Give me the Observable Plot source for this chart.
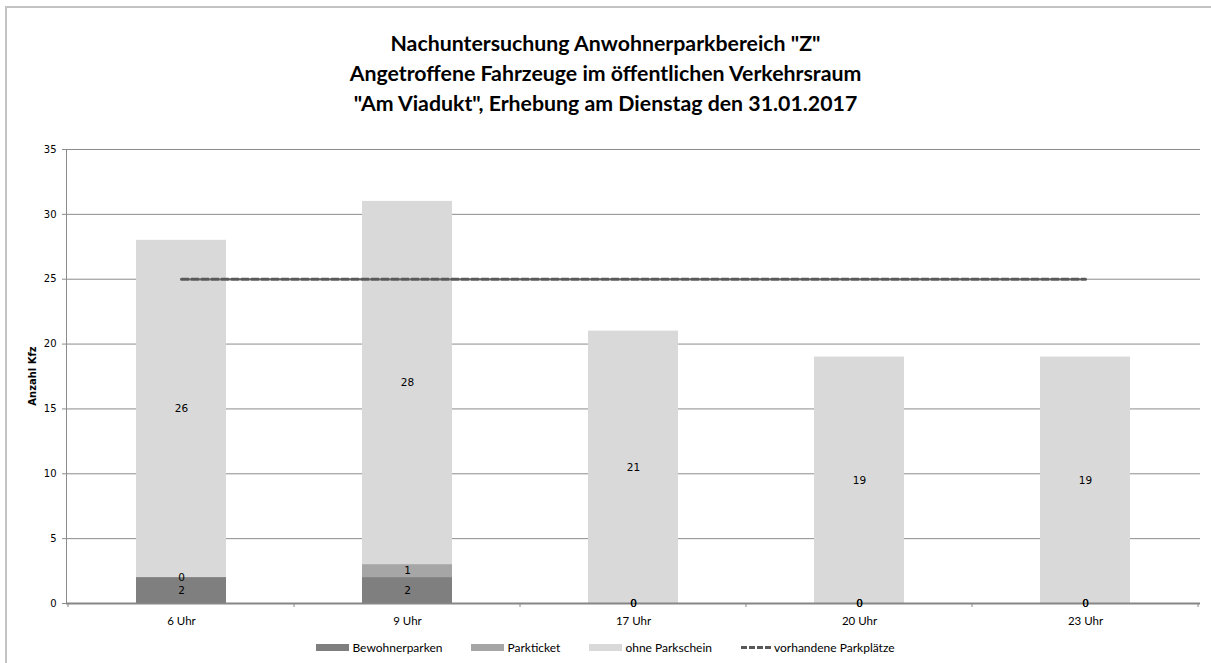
<!DOCTYPE html>
<html>
<head>
<meta charset="utf-8">
<script src="https://cdn.jsdelivr.net/npm/d3@7"></script>
<script src="https://cdn.jsdelivr.net/npm/@observablehq/plot@0.6"></script>
<style>
  html, body { margin: 0; padding: 0; background: #fff; }
  #wrap { position: relative; width: 1211px; height: 663px; overflow: hidden; background: #fff; }
  #frame { position: absolute; left: 5px; top: 6px; width: 1300px; height: 800px;
           border-left: 2px solid #c3c3c3; border-top: 2px solid #c3c3c3; }
  #title { position: absolute; left: 0; top: 28px; width: 1211px; text-align: center;
           font-family: Lato, "Open Sans", sans-serif; font-weight: bold; font-size: 21.3px;
           line-height: 30px; color: #000; }
  #chart { position: absolute; left: 0; top: 125px; }
  #ylabel { position: absolute; left: 32px; top: 376px; transform: translate(-50%, -50%) rotate(-90deg);
            font-family: "DejaVu Sans", Verdana, sans-serif; font-weight: bold; font-size: 10px; white-space: nowrap; }
  #legend { position: absolute; left: 0; top: 640px; width: 1211px; display: flex; justify-content: center;
            font-family: Lato, "Open Sans", sans-serif; font-size: 12px; color: #000; gap: 29px; }
  .item { display: flex; align-items: center; gap: 3px; }
  .sw { width: 33px; height: 7px; }
  .dash { width: 30px; height: 0; border-top: 3px dashed #595959; }
</style>
</head>
<body>
<div id="wrap">
  <div id="frame"></div>
  <div id="title">Nachuntersuchung Anwohnerparkbereich "Z"<br>Angetroffene Fahrzeuge im öffentlichen Verkehrsraum<br>"Am Viadukt", Erhebung am Dienstag den 31.01.2017</div>
  <div id="chart"></div>
  <div id="ylabel">Anzahl Kfz</div>
  <div id="legend"></div>
</div>
<script>
// Survey times (categories)
const times = ["6 Uhr", "9 Uhr", "17 Uhr", "20 Uhr", "23 Uhr"];
// Vehicle counts per parking type
const bewohnerparken = [2, 2, 0, 0, 0];
const parkticket = [0, 1, 0, 0, 0];
const ohneParkschein = [26, 28, 21, 19, 19];
// Available parking spaces (reference line)
const vorhandeneParkplaetze = [25, 25, 25, 25, 25];
// Series names and y-axis ticks
const seriesNames = ["Bewohnerparken", "Parkticket", "ohne Parkschein"];
const lineName = "vorhandene Parkplätze";
const yTicks = [0, 5, 10, 15, 20, 25, 30, 35];

const seriesColors = ["#7f7f7f", "#a6a6a6", "#d9d9d9"];
const seriesValues = [bewohnerparken, parkticket, ohneParkschein];

// Long table for stacking
const rows = [];
times.forEach((t, i) => {
  seriesNames.forEach((s, j) => rows.push({ time: t, series: s, value: seriesValues[j][i] }));
});
const lineRows = times.map((t, i) => ({ time: t, value: vorhandeneParkplaetze[i] }));

const numFont = "'DejaVu Sans', Verdana, sans-serif";
const catFont = "Lato, 'Open Sans', sans-serif";

const chart = Plot.plot({
  width: 1211,
  height: 505,
  marginTop: 24,
  marginBottom: 27,
  marginLeft: 66,
  marginRight: 11,
  style: { background: "transparent", overflow: "visible" },
  x: { domain: times, paddingInner: 0.6, paddingOuter: 0.3, label: null },
  y: { domain: [0, 35], label: null },
  color: { domain: seriesNames, range: seriesColors },
  marks: [
    Plot.gridY(yTicks.filter(d => d > 0), { stroke: "#8c8c8c", strokeOpacity: 1 }),
    Plot.frame({ anchor: "left", stroke: "#8c8c8c" }),
    Plot.axisY(yTicks, { tickSize: 4, tickPadding: 6, stroke: "#8c8c8c", fill: "#000",
      fontSize: 10, fontFamily: numFont, label: null }),
    Plot.barY(rows, { x: "time", y: "value", fill: "series", z: "series" }),
    Plot.lineY(lineRows, { x: "time", y: "value", stroke: "#595959", strokeWidth: 3, strokeDasharray: "7,3" }),
    Plot.ruleY([0], { stroke: "#868686", strokeWidth: 2 }),
    Plot.axisX({ tickSize: 0, tickPadding: 13, fill: "#000", fontSize: 11.5, fontFamily: catFont, label: null }),
    Plot.text(rows, Plot.stackY({ x: "time", y: "value", z: "series", text: "value",
      fill: "#000", fontSize: 10.5, fontFamily: numFont }))
  ]
});

// Category separator ticks along the x axis, derived from the band scale
const sx = chart.scale("x");
const sy = chart.scale("y");
const half = (sx.step - sx.bandwidth) / 2;
const sepX = times.map(t => sx.apply(t) - half);
sepX.push(sx.apply(times[times.length - 1]) + sx.bandwidth + half);
const y0 = sy.apply(0);
d3.select(chart).append("g")
  .selectAll("line").data(sepX).join("line")
  .attr("x1", d => d).attr("x2", d => d)
  .attr("y1", y0).attr("y2", y0 + 4)
  .attr("stroke", "#868686");

document.getElementById("chart").appendChild(chart);

// Legend
const legend = d3.select("#legend");
seriesNames.forEach((s, i) => {
  const it = legend.append("div").attr("class", "item");
  it.append("div").attr("class", "sw").style("background", seriesColors[i]);
  it.append("span").text(s);
});
const li = legend.append("div").attr("class", "item");
li.append("div").attr("class", "dash");
li.append("span").text(lineName);
</script>
</body>
</html>
